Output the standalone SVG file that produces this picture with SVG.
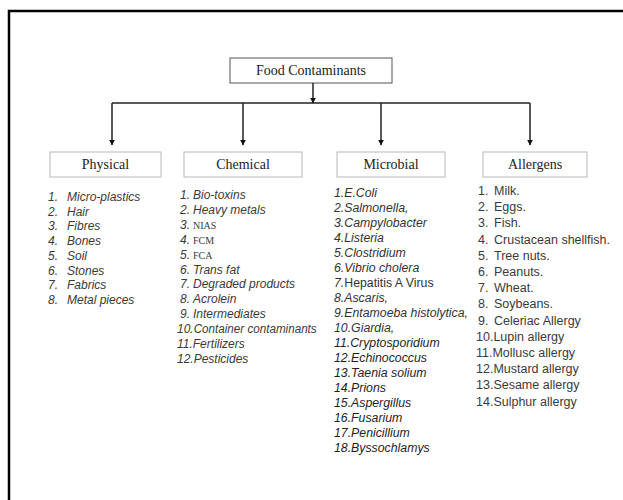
<svg xmlns="http://www.w3.org/2000/svg" width="623" height="500" viewBox="0 0 623 500">
<style>
.frame{fill:none;stroke:#000;stroke-width:2.5}
.box{fill:#fff;stroke:#b8b8b8;stroke-width:1}
.root{fill:#fff;stroke:#555;stroke-width:1}
.lbl{font-family:"Liberation Serif","Times New Roman",serif;font-size:14px;fill:#222;text-anchor:middle}
.it{font-family:"Liberation Sans",Arial,sans-serif;font-size:12px;font-style:italic;fill:#3a3a3a}
.mi{font-family:"Liberation Sans",Arial,sans-serif;font-size:12.3px;font-style:italic;fill:#333}
.up{font-family:"Liberation Sans",Arial,sans-serif;font-size:12.5px;fill:#3a3a3a}
.sf{font-family:"Liberation Serif","Times New Roman",serif;font-size:10px;font-style:normal;fill:#3a3a3a}
.dk{fill:#1e1e1e}
.conn{fill:none;stroke:#222;stroke-width:1.5}
</style>
<defs>
<marker id="ah" viewBox="0 0 10 10" refX="9" refY="5" markerWidth="6" markerHeight="6" orient="auto" markerUnits="userSpaceOnUse">
<path d="M0,0 L10,5 L0,10 z" fill="#111"/>
</marker>
</defs>
<rect width="623" height="500" fill="#fff"/>
<path class="frame" d="M9,505 L9,11 L630,11"/>

<g id="root">
<rect class="root" x="230" y="58" width="162" height="25"/>
<text class="lbl" x="311" y="75">Food Contaminants</text>
</g>

<g id="connectors">
<path class="conn" d="M313,83 L313,103" marker-end="url(#ah)"/>
<path class="conn" d="M112,103 L530,103"/>
<path class="conn" d="M112,103 L112,145" marker-end="url(#ah)"/>
<path class="conn" d="M243,103 L243,145" marker-end="url(#ah)"/>
<path class="conn" d="M381,103 L381,145" marker-end="url(#ah)"/>
<path class="conn" d="M530,103 L530,145" marker-end="url(#ah)"/>
</g>

<g id="physical">
<rect class="box" x="50" y="152" width="111" height="25"/>
<text class="lbl" x="105.5" y="169">Physical</text>
<g class="it">
<text x="48" y="201">1.</text><text x="67" y="201">Micro-plastics</text>
<text x="48" y="215.7">2.</text><text x="67" y="215.7">Hair</text>
<text x="48" y="230.4">3.</text><text x="67" y="230.4">Fibres</text>
<text x="48" y="245.1">4.</text><text x="67" y="245.1">Bones</text>
<text x="48" y="259.8">5.</text><text x="67" y="259.8">Soil</text>
<text x="48" y="274.5">6.</text><text x="67" y="274.5">Stones</text>
<text x="48" y="289.2">7.</text><text x="67" y="289.2">Fabrics</text>
<text x="48" y="303.9">8.</text><text x="67" y="303.9">Metal pieces</text>
</g>
</g>

<g id="chemical">
<rect class="box" x="184" y="152" width="118" height="25"/>
<text class="lbl" x="243" y="169">Chemical</text>
<g class="it">
<text x="180" y="199">1.</text><text x="193" y="199">Bio-toxins</text>
<text x="180" y="213.9">2.</text><text x="193" y="213.9">Heavy metals</text>
<text x="180" y="228.8">3.</text><text class="sf" x="193" y="228.8">NIAS</text>
<text x="180" y="243.7">4.</text><text class="sf" x="193" y="243.7">FCM</text>
<text x="180" y="258.6">5.</text><text class="sf" x="193" y="258.6">FCA</text>
<text x="180" y="273.5">6.</text><text x="193" y="273.5">Trans fat</text>
<text x="180" y="288.4">7.</text><text x="193" y="288.4">Degraded products</text>
<text x="180" y="303.3">8.</text><text x="193" y="303.3">Acrolein</text>
<text x="180" y="318.2">9.</text><text x="193" y="318.2">Intermediates</text>
<text x="177" y="333.1">10.<tspan textLength="123" lengthAdjust="spacingAndGlyphs">Container contaminants</tspan></text>
<text x="177" y="348">11.Fertilizers</text>
<text x="177" y="362.9">12.Pesticides</text>
</g>
</g>

<g id="microbial">
<rect class="box" x="337" y="152" width="108" height="25"/>
<text class="lbl" x="391" y="169">Microbial</text>
<g class="mi">
<text x="334" y="197">1.E.Coli</text>
<text x="334" y="212">2.Salmonella,</text>
<text x="334" y="227">3.Campylobacter</text>
<text x="334" y="242">4.Listeria</text>
<text x="334" y="257">5.Clostridium</text>
<text x="334" y="272">6.Vibrio cholera</text>
<text x="334" y="287">7.<tspan font-style="normal">Hepatitis A Virus</tspan></text>
<text x="334" y="302">8.Ascaris,</text>
<text x="334" y="317">9.Entamoeba histolytica,</text>
<text x="334" y="332">10.Giardia,</text>
<text class="dk" x="334" y="347">11.Cryptosporidium</text>
<text class="dk" x="334" y="362">12.Echinococcus</text>
<text class="dk" x="334" y="377">13.Taenia solium</text>
<text class="dk" x="334" y="392">14.Prions</text>
<text class="dk" x="334" y="407">15.Aspergillus</text>
<text class="dk" x="334" y="422">16.Fusarium</text>
<text class="dk" x="334" y="437">17.Penicillium</text>
<text class="dk" x="334" y="452">18.Byssochlamys</text>
</g>
</g>

<g id="allergens">
<rect class="box" x="483" y="152" width="104" height="25"/>
<text class="lbl" x="535" y="169">Allergens</text>
<g class="up">
<text x="478" y="195">1.</text><text x="494" y="195">Milk.</text>
<text x="478" y="211.2">2.</text><text x="494" y="211.2">Eggs.</text>
<text x="478" y="227.4">3.</text><text x="494" y="227.4">Fish.</text>
<text x="478" y="243.6">4.</text><text x="494" y="243.6">Crustacean shellfish.</text>
<text x="478" y="259.8">5.</text><text x="494" y="259.8">Tree nuts.</text>
<text x="478" y="276">6.</text><text x="494" y="276">Peanuts.</text>
<text x="478" y="292.2">7.</text><text x="494" y="292.2">Wheat.</text>
<text x="478" y="308.4">8.</text><text x="494" y="308.4">Soybeans.</text>
<text x="478" y="324.6">9.</text><text x="494" y="324.6">Celeriac Allergy</text>
<text x="476" y="340.8">10.Lupin allergy</text>
<text x="476" y="357">11.Mollusc allergy</text>
<text x="476" y="373.2">12.Mustard allergy</text>
<text x="476" y="389.4">13.Sesame allergy</text>
<text x="476" y="405.6">14.Sulphur allergy</text>
</g>
</g>
</svg>
